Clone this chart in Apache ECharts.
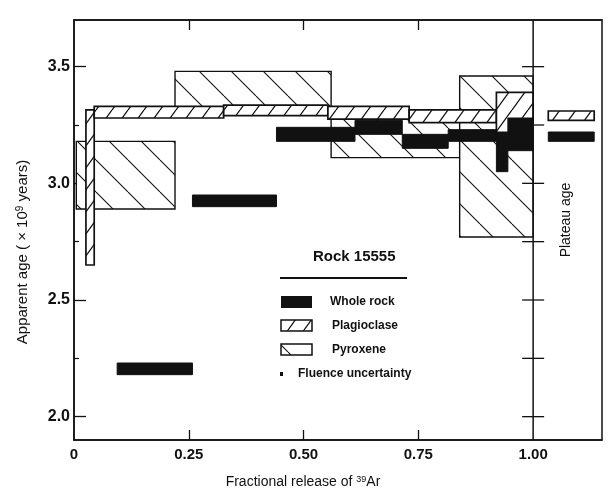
<!DOCTYPE html>
<html>
<head>
<meta charset="utf-8">
<script src="https://cdn.jsdelivr.net/npm/echarts@6/dist/echarts.min.js"></script>
<style>
  html, body { margin: 0; background: #fff; }
  #chart { width: 615px; height: 499px; }
</style>
</head>
<body>
<div id="chart"></div>
<script>
// age spectra of rock 15555
// each step: [release from, release to, age low, age high]  (age in 10^9 yr)
const wholeRock = [
  [0.094, 0.258, 2.18, 2.23],
  [0.258, 0.441, 2.90, 2.95],
  [0.441, 0.612, 3.18, 3.24],
  [0.612, 0.715, 3.21, 3.27],
  [0.715, 0.815, 3.15, 3.21],
  [0.815, 0.920, 3.18, 3.23],
  [0.920, 0.945, 3.05, 3.22],
  [0.945, 1.000, 3.14, 3.28]
];
const plagioclase = [
  [0.026, 0.044, 2.65, 3.315],
  [0.044, 0.326, 3.28, 3.33],
  [0.326, 0.553, 3.29, 3.335],
  [0.553, 0.730, 3.275, 3.33],
  [0.730, 0.920, 3.26, 3.315],
  [0.920, 1.000, 3.21, 3.39]
];
const pyroxene = [
  [0.005, 0.220, 2.89, 3.18],
  [0.220, 0.560, 3.30, 3.48],
  [0.560, 0.840, 3.11, 3.31],
  [0.840, 1.000, 2.77, 3.46]
];
// plateau ages (drawn right of the 1.00 line)
const plateauPlag = [[1.033, 1.133, 3.27, 3.31]];
const plateauWhole = [[1.033, 1.133, 3.18, 3.22]];

const xLabels = [0, 0.25, 0.5, 0.75, 1.0];
const xTicks = [0.25, 0.5, 0.75];
const yLabels = [2.0, 2.5, 3.0, 3.5];
const yMinor = [2.25, 2.75, 3.25];
const plateauTicks = [2.0, 2.25, 2.5, 2.75, 3.0, 3.25, 3.5];

const INK = '#111';
const FONT = '"Liberation Sans", Arial, sans-serif';

// hatch fills
function hatch(w, h, dir, lw) {
  const c = document.createElement('canvas');
  c.width = w; c.height = h;
  const ctx = c.getContext('2d');
  ctx.fillStyle = '#fff';
  ctx.fillRect(0, 0, w, h);
  ctx.strokeStyle = INK;
  ctx.lineWidth = lw;
  for (let k = -1; k <= 1; k++) {
    ctx.beginPath();
    if (dir > 0) { // "/"
      ctx.moveTo(k * w, h);
      ctx.lineTo(k * w + w, 0);
    } else {       // "\"
      ctx.moveTo(k * w, 0);
      ctx.lineTo(k * w + w, h);
    }
    ctx.stroke();
  }
  return { image: c, repeat: 'repeat' };
}
const plagFill = hatch(16, 22, 1, 1.3);
const pyxFill = hatch(32, 32, -1, 1.1);

function boxRenderer(fill, lw) {
  return function (params, api) {
    const a = api.coord([api.value(0), api.value(3)]);
    const b = api.coord([api.value(1), api.value(2)]);
    return {
      type: 'rect',
      shape: { x: a[0], y: a[1], width: b[0] - a[0], height: b[1] - a[1] },
      style: { fill: fill, stroke: INK, lineWidth: lw }
    };
  };
}

const chart = echarts.init(document.getElementById('chart'));

const option = {
  animation: false,
  backgroundColor: '#fff',
  grid: {
    left: 74, right: 13, top: 20, bottom: 59,
    show: true, borderColor: INK, borderWidth: 1.5, backgroundColor: 'transparent'
  },
  xAxis: [
    {
      type: 'value', position: 'bottom', min: 0, max: 1.15,
      axisLine: { lineStyle: { color: INK, width: 1.5 } },
      axisTick: { customValues: xTicks, inside: true, length: 10, lineStyle: { color: INK, width: 1.3 } },
      axisLabel: {
        customValues: xLabels, margin: 7, color: INK, fontFamily: FONT, fontSize: 15, fontWeight: 'bold',
        formatter: v => (v === 0 ? '0' : v.toFixed(2))
      },
      splitLine: { show: false },
      name: 'Fractional release of {sup|39}Ar',
      nameLocation: 'middle', nameGap: 35,
      nameTextStyle: {
        color: INK, fontFamily: FONT, fontSize: 14, padding: [0, 70, 0, 0],
        rich: { sup: { fontSize: 9, fontFamily: FONT, color: INK, verticalAlign: 'top' } }
      }
    },
    {
      type: 'value', position: 'top', min: 0, max: 1.15,
      axisLine: { lineStyle: { color: INK, width: 1.5 } },
      axisTick: { customValues: xTicks, inside: true, length: 10, lineStyle: { color: INK, width: 1.3 } },
      axisLabel: { show: false },
      splitLine: { show: false }
    }
  ],
  yAxis: [
    {
      type: 'value', position: 'left', min: 1.9, max: 3.7,
      axisLine: { lineStyle: { color: INK, width: 1.5 } },
      axisTick: { customValues: yLabels, inside: true, length: 12, lineStyle: { color: INK, width: 1.3 } },
      axisLabel: {
        customValues: yLabels, margin: 4, color: INK, fontFamily: FONT, fontSize: 16, fontWeight: 'bold',
        formatter: v => v.toFixed(1)
      },
      splitLine: { show: false },
      name: 'Apparent age ( × 10{sup|9} years)',
      nameLocation: 'middle', nameGap: 44, nameRotate: 90,
      nameTextStyle: {
        color: INK, fontFamily: FONT, fontSize: 15, padding: [0, 44, 0, 0],
        rich: { sup: { fontSize: 10, fontFamily: FONT, color: INK, verticalAlign: 'top' } }
      }
    },
    {
      type: 'value', position: 'left', min: 1.9, max: 3.7,
      axisLine: { show: false },
      axisTick: { customValues: yMinor, inside: true, length: 5, lineStyle: { color: INK, width: 1.2 } },
      axisLabel: { show: false },
      splitLine: { show: false }
    }
  ],
  series: [
    {
      name: 'Pyroxene', type: 'custom', z: 2,
      renderItem: boxRenderer(pyxFill, 1.4),
      encode: { x: [0, 1], y: [2, 3] },
      data: pyroxene
    },
    {
      name: 'Plagioclase', type: 'custom', z: 3,
      renderItem: boxRenderer(plagFill, 1.7),
      encode: { x: [0, 1], y: [2, 3] },
      data: plagioclase.concat(plateauPlag)
    },
    {
      name: 'Whole rock', type: 'custom', z: 4,
      renderItem: boxRenderer(INK, 1),
      encode: { x: [0, 1], y: [2, 3] },
      data: wholeRock.concat(plateauWhole)
    },
    {
      // line separating plateau column, with cross ticks
      type: 'line', z: 5, symbol: 'none', silent: true,
      lineStyle: { color: INK, width: 1.5 },
      data: [[1.0, 1.9], [1.0, 3.7]]
    },
    {
      type: 'custom', z: 5, silent: true,
      renderItem: function (params, api) {
        const p = api.coord([api.value(0), api.value(1)]);
        return {
          type: 'line',
          shape: { x1: p[0] - 11, y1: p[1], x2: p[0] + 11, y2: p[1] },
          style: { stroke: INK, lineWidth: 1.3 }
        };
      },
      data: plateauTicks.map(v => [1.0, v])
    }
  ],
  graphic: [
    { type: 'text', x: 566, y: 220, rotation: Math.PI / 2,
      style: { text: 'Plateau age', fill: INK, font: '14px ' + FONT, align: 'center', verticalAlign: 'middle' } },
    { type: 'text', x: 313, y: 257,
      style: { text: 'Rock 15555', fill: INK, font: 'bold 15px ' + FONT, verticalAlign: 'middle' } },
    { type: 'line', shape: { x1: 280, y1: 278, x2: 407, y2: 278 }, style: { stroke: INK, lineWidth: 2 } },
    { type: 'rect', shape: { x: 281, y: 296, width: 31, height: 12 }, style: { fill: INK } },
    { type: 'text', x: 330, y: 302,
      style: { text: 'Whole rock', fill: INK, font: 'bold 12px ' + FONT, verticalAlign: 'middle' } },
    { type: 'rect', shape: { x: 281, y: 320, width: 31, height: 11 }, style: { fill: plagFill, stroke: INK, lineWidth: 1.5 } },
    { type: 'text', x: 332, y: 326,
      style: { text: 'Plagioclase', fill: INK, font: 'bold 12px ' + FONT, verticalAlign: 'middle' } },
    { type: 'rect', shape: { x: 281, y: 344, width: 31, height: 11 }, style: { fill: pyxFill, stroke: INK, lineWidth: 1.5 } },
    { type: 'text', x: 332, y: 350,
      style: { text: 'Pyroxene', fill: INK, font: 'bold 12px ' + FONT, verticalAlign: 'middle' } },
    { type: 'rect', shape: { x: 280, y: 372, width: 3, height: 4 }, style: { fill: INK } },
    { type: 'text', x: 298, y: 374,
      style: { text: 'Fluence uncertainty', fill: INK, font: 'bold 12px ' + FONT, verticalAlign: 'middle' } }
  ]
};

chart.setOption(option);
window.addEventListener('resize', () => {
  chart.resize();
});
</script>
</body>
</html>
